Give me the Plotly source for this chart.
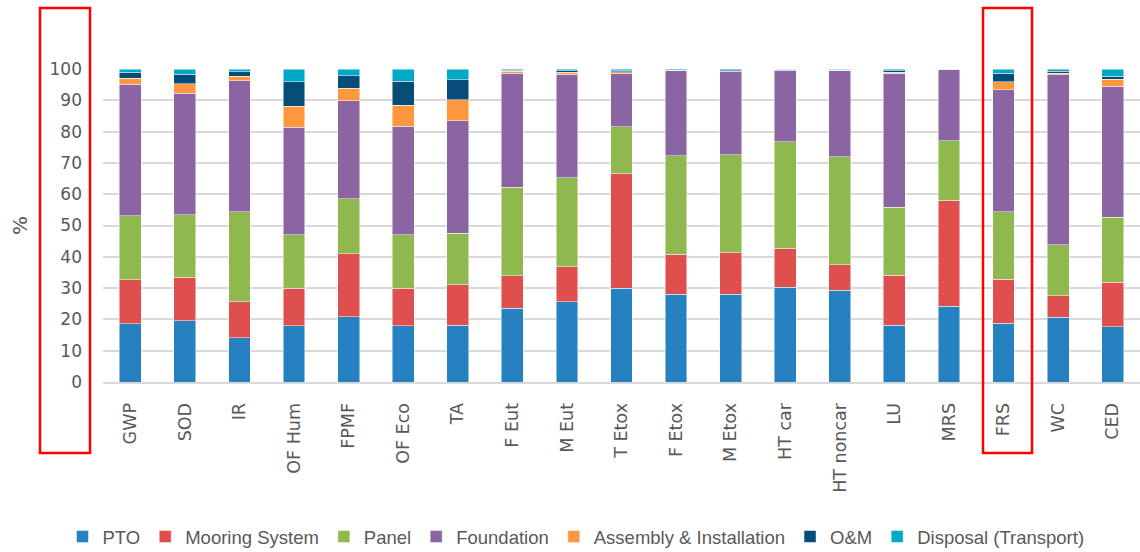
import plotly.graph_objects as go

# impact categories
categories = ["GWP", "SOD", "IR", "OF Hum", "FPMF", "OF Eco", "TA", "F Eut", "M Eut",
              "T Etox", "F Etox", "M Etox", "HT car", "HT noncar", "LU", "MRS", "FRS", "WC", "CED"]

# contribution per life-cycle stage (%)
pto = [18.6, 19.6, 14.2, 17.9, 20.8, 18.0, 18.2, 23.6, 25.6, 29.9, 28.0, 28.1, 30.2, 29.3, 18.2, 24.2, 18.8, 20.7, 17.6]
mooring = [14.0, 13.9, 11.4, 12.0, 20.1, 11.9, 12.9, 10.4, 11.2, 36.6, 12.8, 13.2, 12.6, 8.2, 15.9, 33.8, 14.0, 6.8, 14.3]
panel = [20.5, 20.0, 28.8, 17.1, 17.7, 17.2, 16.4, 28.3, 28.4, 15.1, 31.5, 31.3, 33.9, 34.5, 21.8, 19.0, 21.6, 16.3, 20.8]
foundation = [42.0, 38.7, 41.8, 34.4, 31.2, 34.6, 35.9, 36.3, 33.1, 17.0, 27.1, 26.7, 22.9, 27.4, 42.7, 22.7, 39.0, 54.4, 41.8]
assembly = [1.9, 3.1, 1.5, 6.7, 4.1, 6.7, 6.7, 0.7, 0.6, 0.5, 0.2, 0.2, 0.2, 0.2, 0.4, 0.1, 2.6, 0.5, 2.2]
om = [1.9, 3.0, 1.4, 7.9, 3.9, 7.7, 6.5, 0.3, 0.5, 0.4, 0.2, 0.3, 0.1, 0.1, 0.5, 0.1, 2.6, 0.6, 1.0]
disposal = [1.1, 1.7, 0.9, 4.0, 2.2, 3.9, 3.4, 0.4, 0.6, 0.5, 0.4, 0.4, 0.2, 0.3, 0.5, 0.1, 1.4, 0.7, 2.3]

series = [
    ("PTO", pto, "#2681c0"),
    ("Mooring System", mooring, "#de4f4e"),
    ("Panel", panel, "#8fb94e"),
    ("Foundation", foundation, "#8b64a4"),
    ("Assembly & Installation", assembly, "#fe973d"),
    ("O&M", om, "#064c78"),
    ("Disposal (Transport)", disposal, "#00aac6"),
]

fig = go.Figure()
for name, vals, col in series:
    fig.add_trace(go.Bar(
        x=categories, y=vals, name=name,
        marker=dict(color=col, line=dict(color="rgba(255,255,255,0.6)", width=0.8)),
    ))

# plot area in pixels
L, R, T, B = 103, 1140, 69, 382
W, H = R - L, B - T


def px_x(p):
    return (p - L) / W


def px_y(p):
    return (B - p) / H


# red highlight boxes
for x0, x1 in [(40, 90), (983, 1032)]:
    fig.add_shape(type="rect", xref="paper", yref="paper",
                  x0=px_x(x0), x1=px_x(x1), y0=px_y(453), y1=px_y(8),
                  line=dict(color="#ff0000", width=2.5), fillcolor="rgba(0,0,0,0)")

fig.update_layout(
    barmode="stack",
    bargap=0.6,
    width=1140, height=552,
    margin=dict(l=L, r=1140 - R, t=T, b=552 - B, autoexpand=False),
    plot_bgcolor="white",
    paper_bgcolor="white",
    font=dict(family="Liberation Sans, Arial", color="#595959", size=17),
    legend=dict(orientation="h", x=px_x(576), xanchor="center", y=px_y(537), yanchor="middle",
                font=dict(size=18.5, color="#595959"), itemwidth=30, tracegroupgap=0,
                traceorder="normal"),
    xaxis=dict(
        tickangle=-90,
        tickfont=dict(family="DejaVu Sans", size=17.5, color="#595959"),
        showline=True, linecolor="#d9d9d9", linewidth=2,
        ticks="", ticklabelstandoff=12,
        range=[-0.5, 18.5], automargin=False,
    ),
    yaxis=dict(
        range=[0, 100], dtick=10,
        showgrid=True, gridcolor="#d9d9d9", gridwidth=1.5,
        zeroline=False, automargin=False,
        tickfont=dict(family="DejaVu Sans", size=17, color="#595959"),
        ticklabelstandoff=20,
        title=dict(text="%", font=dict(family="DejaVu Sans", size=20, color="#595959"), standoff=16),
    ),
)

# drop the page's default body margin so the figure sits at the window's corner
fig.write_html("out.html", config={"displayModeBar": False},
               post_script="document.body.style.margin='0';")
